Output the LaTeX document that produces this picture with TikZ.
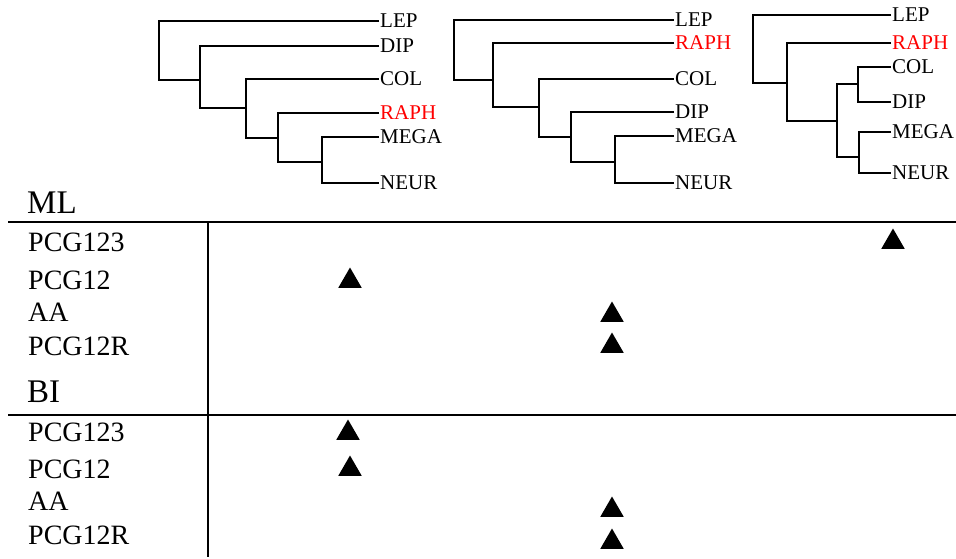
\documentclass[tikz,border=0pt]{standalone}
\usepackage{fontspec}
\setmainfont{Liberation Serif}
\usetikzlibrary{shapes.geometric}

\begin{document}
\begin{tikzpicture}[
  x=1pt, y=-1pt,
  taxon/.style={anchor=west, inner sep=1pt, font=\fontsize{21}{21}\selectfont},
  rowlab/.style={anchor=west, inner sep=0pt, font=\fontsize{28}{28}\selectfont},
  head/.style={anchor=west, inner sep=0pt, font=\fontsize{33}{33}\selectfont},
  hit/.style={regular polygon, regular polygon sides=3, fill=black, inner sep=0pt, minimum size=27pt},
  branch/.style={line width=2.3pt},
  rule/.style={line width=2pt}
]
  \useasboundingbox (0,0) rectangle (956,559);

  % tree 1
  \node[taxon] (lep1)  at (379, 21)  {LEP};
  \node[taxon] (dip1)  at (379, 46)  {DIP};
  \node[taxon] (col1)  at (379, 79)  {COL};
  \node[taxon, text=red] (raph1) at (379,113) {RAPH};
  \node[taxon] (mega1) at (379,137)  {MEGA};
  \node[taxon] (neur1) at (379,183)  {NEUR};
  \coordinate (c5) at (322,162);
  \coordinate (c4) at (278,138);
  \coordinate (c3) at (246,108);
  \coordinate (c2) at (200, 80);
  \coordinate (c1) at (159, 50);
  \draw[branch] (mega1.west) -| (c5) |- (neur1.west);
  \draw[branch] (raph1.west) -| (c4) |- (c5);
  \draw[branch] (col1.west)  -| (c3) |- (c4);
  \draw[branch] (dip1.west)  -| (c2) |- (c3);
  \draw[branch] (lep1.west)  -| (c1) |- (c2);

  % tree 2
  \node[taxon] (lep2)  at (674, 20)  {LEP};
  \node[taxon, text=red] (raph2) at (674, 43) {RAPH};
  \node[taxon] (col2)  at (674, 79)  {COL};
  \node[taxon] (dip2)  at (674,112)  {DIP};
  \node[taxon] (mega2) at (674,136)  {MEGA};
  \node[taxon] (neur2) at (674,183)  {NEUR};
  \coordinate (d5) at (615,162);
  \coordinate (d4) at (571,137);
  \coordinate (d3) at (539,107);
  \coordinate (d2) at (493, 80);
  \coordinate (d1) at (454, 50);
  \draw[branch] (mega2.west) -| (d5) |- (neur2.west);
  \draw[branch] (dip2.west)  -| (d4) |- (d5);
  \draw[branch] (col2.west)  -| (d3) |- (d4);
  \draw[branch] (raph2.west) -| (d2) |- (d3);
  \draw[branch] (lep2.west)  -| (d1) |- (d2);

  % tree 3
  \node[taxon] (lep3)  at (891, 15)  {LEP};
  \node[taxon, text=red] (raph3) at (891, 43) {RAPH};
  \node[taxon] (col3)  at (891, 67)  {COL};
  \node[taxon] (dip3)  at (891,102)  {DIP};
  \node[taxon] (mega3) at (891,132)  {MEGA};
  \node[taxon] (neur3) at (891,173)  {NEUR};
  \coordinate (e5) at (858, 84);
  \coordinate (e6) at (859,157);
  \coordinate (e3) at (837,121);
  \coordinate (e2) at (787, 83);
  \coordinate (e1) at (753, 50);
  \draw[branch] (col3.west)  -| (e5) |- (dip3.west);
  \draw[branch] (mega3.west) -| (e6) |- (neur3.west);
  \draw[branch] (e5) -| (e3) |- (e6);
  \draw[branch] (raph3.west) -| (e2) |- (e3);
  \draw[branch] (lep3.west)  -| (e1) |- (e2);

  % table
  \draw[rule] (8,222) -- (956,222);
  \draw[rule] (8,415) -- (956,415);
  \draw[rule] (208,222) -- (208,557);

  \node[head] (ml) at (27,203) {ML};
  \node[rowlab] (ml123) at (28,242) {PCG123};
  \node[rowlab] (ml12)  at (28,280) {PCG12};
  \node[rowlab] (mlaa)  at (28,312) {AA};
  \node[rowlab] (ml12r) at (28,346) {PCG12R};

  \node[head] (bi) at (27,392) {BI};
  \node[rowlab] (bi123) at (28,432) {PCG123};
  \node[rowlab] (bi12)  at (28,469) {PCG12};
  \node[rowlab] (biaa)  at (28,501) {AA};
  \node[rowlab] (bi12r) at (28,535) {PCG12R};

  \node[hit] (t1) at (893,242) {};
  \node[hit] (t2) at (350,281) {};
  \node[hit] (t3) at (612,315) {};
  \node[hit] (t4) at (612,346) {};
  \node[hit] (t5) at (348,433) {};
  \node[hit] (t6) at (350,469) {};
  \node[hit] (t7) at (612,510) {};
  \node[hit] (t8) at (612,542) {};
\end{tikzpicture}
\end{document}
